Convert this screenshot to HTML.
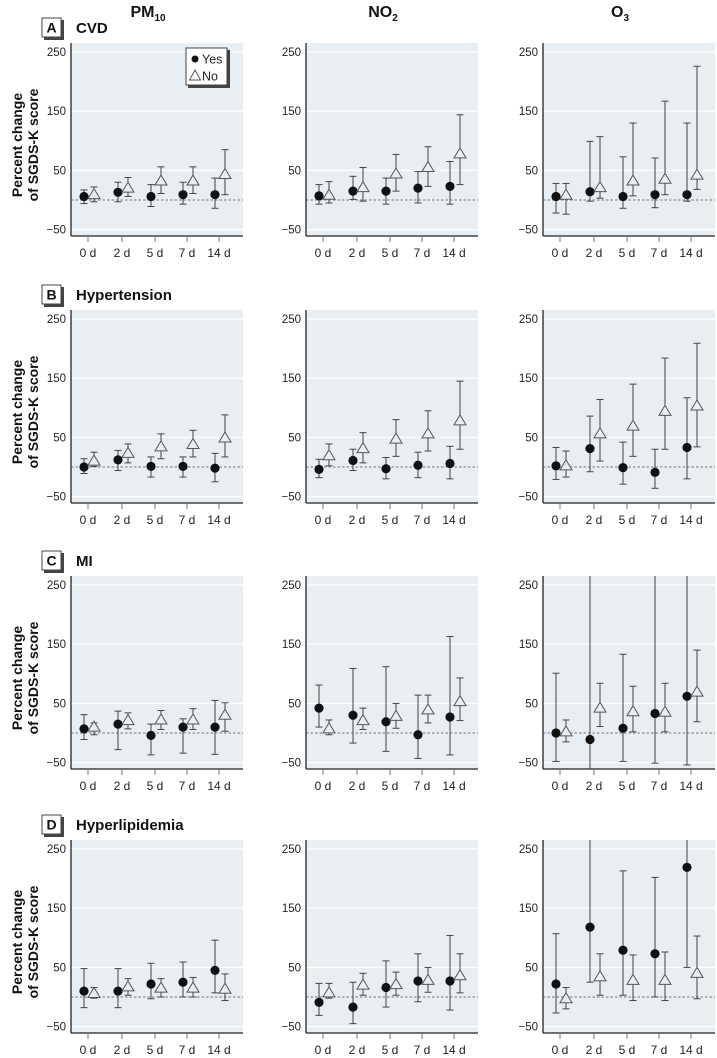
<!DOCTYPE html>
<html><head><meta charset="utf-8">
<style>
html,body{margin:0;padding:0;background:#fff;}
svg{display:block;font-family:"Liberation Sans Narrow","Liberation Sans",sans-serif;}
</style></head>
<body>
<svg id="chart" width="717" height="1058" viewBox="0 0 717 1058" xmlns="http://www.w3.org/2000/svg"></svg>
<script>
const categories = ["0 d","2 d","5 d","7 d","14 d"];
const pollutants = ["PM10","NO2","O3"];
const outcomes = ["CVD","Hypertension","MI","Hyperlipidemia"];
const panelLetters = ["A","B","C","D"];
const yTicks = [250,150,50,-50];
const yTickLabels = ["250","150","50","\u221250"];

const cvdYes   = [[6,13,6,9,9],[7,15,15,20,23],[6,14,6,9,9]];
const cvdYesLo = [[-6,-3,-11,-7,-14],[-7,1,-7,-5,-7],[-22,-2,-14,-13,-2]];
const cvdYesHi = [[17,30,26,30,37],[26,40,37,48,65],[28,99,73,71,130]];
const cvdNo    = [[9,20,32,32,43],[8,21,44,55,78],[8,21,32,35,42]];
const cvdNoLo  = [[-3,6,11,11,9],[-5,-2,15,23,26],[-24,3,7,9,18]];
const cvdNoHi  = [[22,38,56,56,85],[31,55,77,90,144],[28,107,130,167,226]];

const hypYes   = [[0,12,1,1,-2],[-4,11,-3,3,6],[2,31,-1,-9,33]];
const hypYesLo = [[-11,-6,-17,-17,-25],[-18,-6,-20,-18,-20],[-21,-8,-29,-36,-20]];
const hypYesHi = [[14,28,17,17,23],[13,30,16,25,35],[33,86,42,30,117]];
const hypNo    = [[10,23,34,38,49],[19,31,47,56,78],[2,56,69,94,103]];
const hypNoLo  = [[1,7,14,17,17],[2,7,18,27,30],[-17,10,18,30,34]];
const hypNoHi  = [[25,39,56,62,88],[39,58,80,95,145],[27,114,140,184,209]];

const miYes    = [[7,15,-4,10,10],[42,30,19,-3,27],[0,-11,8,33,62]];
const miYesLo  = [[-11,-28,-37,-34,-36],[10,-17,-31,-43,-37],[-48,-80,-48,-51,-54]];
const miYesHi  = [[31,37,15,24,55],[81,109,112,64,163],[101,300,133,300,300]];
const miNo     = [[10,21,22,22,30],[7,21,28,39,53],[2,42,36,35,69]];
const miNoLo   = [[-3,7,6,6,3],[-3,6,8,17,21],[-15,11,2,2,19]];
const miNoHi   = [[17,34,38,41,51],[22,42,50,64,93],[22,84,79,84,140]];

const lipYes   = [[10,10,22,25,45],[-9,-17,16,27,27],[22,118,79,73,219]];
const lipYesLo = [[-18,-18,-3,0,7],[-31,-45,-17,-8,-22],[-27,25,3,0,50]];
const lipYesHi = [[48,48,57,59,96],[23,25,61,73,104],[107,300,213,202,300]];
const lipNo    = [[6,17,15,15,13],[7,20,21,28,36],[-3,34,28,28,40]];
const lipNoLo  = [[-2,3,0,0,-6],[-2,3,3,8,7],[-20,3,-6,-6,-3]];
const lipNoHi  = [[16,31,31,33,39],[23,40,42,50,73],[16,73,71,76,103]];

const rowData = [
  [cvdYes,cvdYesLo,cvdYesHi,cvdNo,cvdNoLo,cvdNoHi],
  [hypYes,hypYesLo,hypYesHi,hypNo,hypNoLo,hypNoHi],
  [miYes,miYesLo,miYesHi,miNo,miNoLo,miNoHi],
  [lipYes,lipYesLo,lipYesHi,lipNo,lipNoLo,lipNoHi]
];

const NS = "http://www.w3.org/2000/svg";
const svg = document.getElementById("chart");
function mk(tag, attrs, parent, text){
  const e = document.createElementNS(NS, tag);
  for (const k in attrs) e.setAttribute(k, attrs[k]);
  if (text !== undefined) e.textContent = text;
  (parent||svg).appendChild(e);
  return e;
}
const colLeft = [71,306,543];
const plotW = 172;
const rowTop250 = [52,319,585,849];
const pxPerUnit = 0.592;
const catOffset = [17,51,84,116,148];

const colTitleX = [148,383,620];
const colTitles = [["PM","10"],["NO","2"],["O","3"]];
colTitles.forEach((t,i)=>{
  const tx = mk("text",{x:colTitleX[i],y:17,"text-anchor":"middle","font-size":16,"font-weight":"bold",fill:"#111"});
  
  
  mk("tspan",{},tx,t[0]);
  mk("tspan",{"font-size":10,dy:4},tx,t[1]);
});

let clipId = 0;
rowData.forEach((rd,r)=>{
  const y250 = rowTop250[r];
  const yScale = v => y250 + (250 - v)*pxPerUnit;
  const plotTop = y250 - 9, plotBot = y250 + 184;
  const lg = mk("g",{});
  
  
  mk("rect",{x:44,y:y250-32,width:20,height:20,fill:"#444"},lg);
  mk("rect",{x:42,y:y250-34,width:19,height:19,fill:"#fff",stroke:"#444","stroke-width":1},lg);
  mk("text",{x:51.5,y:y250-19.5,"text-anchor":"middle","font-size":14,"font-weight":"bold",fill:"#111"},lg,panelLetters[r]);
  const ot = mk("text",{x:76,y:y250-19,"font-size":15,"font-weight":"bold",fill:"#111"},undefined,outcomes[r]);
  
  
  const yt = mk("text",{transform:`translate(23,${y250+93}) rotate(-90)`,"text-anchor":"middle","font-size":14,"font-weight":"bold",fill:"#111"});
  
  
  mk("tspan",{x:0,dy:-1},yt,"Percent change");
  mk("tspan",{x:0,dy:16},yt,"of SGDS-K score");

  for (let c=0;c<3;c++){
    const L = colLeft[c];
    const g = mk("g",{});
    
    
    mk("rect",{x:L,y:plotTop,width:plotW,height:plotBot-plotTop,fill:"#e9eef3"},g);
    yTicks.forEach((t,i)=>{
      const gl = mk("line",{x1:L,x2:L+plotW,y1:yScale(t),y2:yScale(t),stroke:"#fff","stroke-width":1.2},g);
      
      
      const tl = mk("text",{x:L-5,y:yScale(t)+4,"text-anchor":"end","font-size":11.5,fill:"#222"},g,yTickLabels[i]);
      
      
    });
    const zl = mk("line",{x1:L,x2:L+plotW,y1:yScale(0),y2:yScale(0),stroke:"#777","stroke-width":0.9,"stroke-dasharray":"2.5,2"},g);
    
    
    mk("line",{x1:L,x2:L,y1:plotTop,y2:plotBot,stroke:"#222","stroke-width":1.3},g);
    mk("line",{x1:L,x2:L+plotW,y1:plotBot,y2:plotBot,stroke:"#222","stroke-width":1.3},g);
    categories.forEach((cat,k)=>{
      const x = L + catOffset[k];
      mk("line",{x1:x,x2:x,y1:plotBot,y2:plotBot+6,stroke:"#777","stroke-width":1},g);
      const xl = mk("text",{x:x,y:plotBot+21,"text-anchor":"middle","font-size":12,fill:"#222"},g,cat);
      
      
    });
    clipId++;
    const cp = mk("clipPath",{id:"cp"+clipId},g);
    mk("rect",{x:L,y:plotTop,width:plotW,height:plotBot-plotTop},cp);
    const mg = mk("g",{"clip-path":`url(#cp${clipId})`},g);
    const [yv,ylo,yhi,nv,nlo,nhi] = rd.map(a=>a[c]);
    categories.forEach((cat,k)=>{
      const x = L + catOffset[k];
      const xy = x-4, xn = x+6;
      const eb = mk("g",{stroke:"#444","stroke-width":1},mg);
      
      
      mk("line",{x1:xy,x2:xy,y1:yScale(yhi[k]),y2:yScale(ylo[k])},eb);
      mk("line",{x1:xy-3.5,x2:xy+3.5,y1:yScale(yhi[k]),y2:yScale(yhi[k])},eb);
      mk("line",{x1:xy-3.5,x2:xy+3.5,y1:yScale(ylo[k]),y2:yScale(ylo[k])},eb);
      const dot = mk("circle",{cx:xy,cy:yScale(yv[k]),r:4.6,fill:"#111"},mg);
      
      
      const eb2 = mk("g",{stroke:"#444","stroke-width":1},mg);
      
      
      mk("line",{x1:xn,x2:xn,y1:yScale(nhi[k]),y2:yScale(nlo[k])},eb2);
      mk("line",{x1:xn-3.5,x2:xn+3.5,y1:yScale(nhi[k]),y2:yScale(nhi[k])},eb2);
      mk("line",{x1:xn-3.5,x2:xn+3.5,y1:yScale(nlo[k]),y2:yScale(nlo[k])},eb2);
      const cy = yScale(nv[k]);
      const tri = mk("polygon",{points:`${xn},${cy-6} ${xn-6},${cy+4} ${xn+6},${cy+4}`,fill:"#e9eef3",stroke:"#555","stroke-width":1},mg);
      
      
    });
  }
});
const leg = mk("g",{});


mk("rect",{x:188,y:50,width:42,height:38,fill:"#444"},leg);
mk("rect",{x:186,y:48,width:41,height:37,fill:"#fff",stroke:"#444","stroke-width":1},leg);
mk("circle",{cx:195,cy:59,r:3.5,fill:"#111"},leg);
const ly = mk("text",{x:202,y:63.5,"font-size":12.5,fill:"#222"},leg,"Yes");


mk("polygon",{points:"195,70 189.5,80 200.5,80",fill:"#fff",stroke:"#555","stroke-width":1},leg);
const ln = mk("text",{x:202,y:80.5,"font-size":12.5,fill:"#222"},leg,"No");


</script>
</body></html>
